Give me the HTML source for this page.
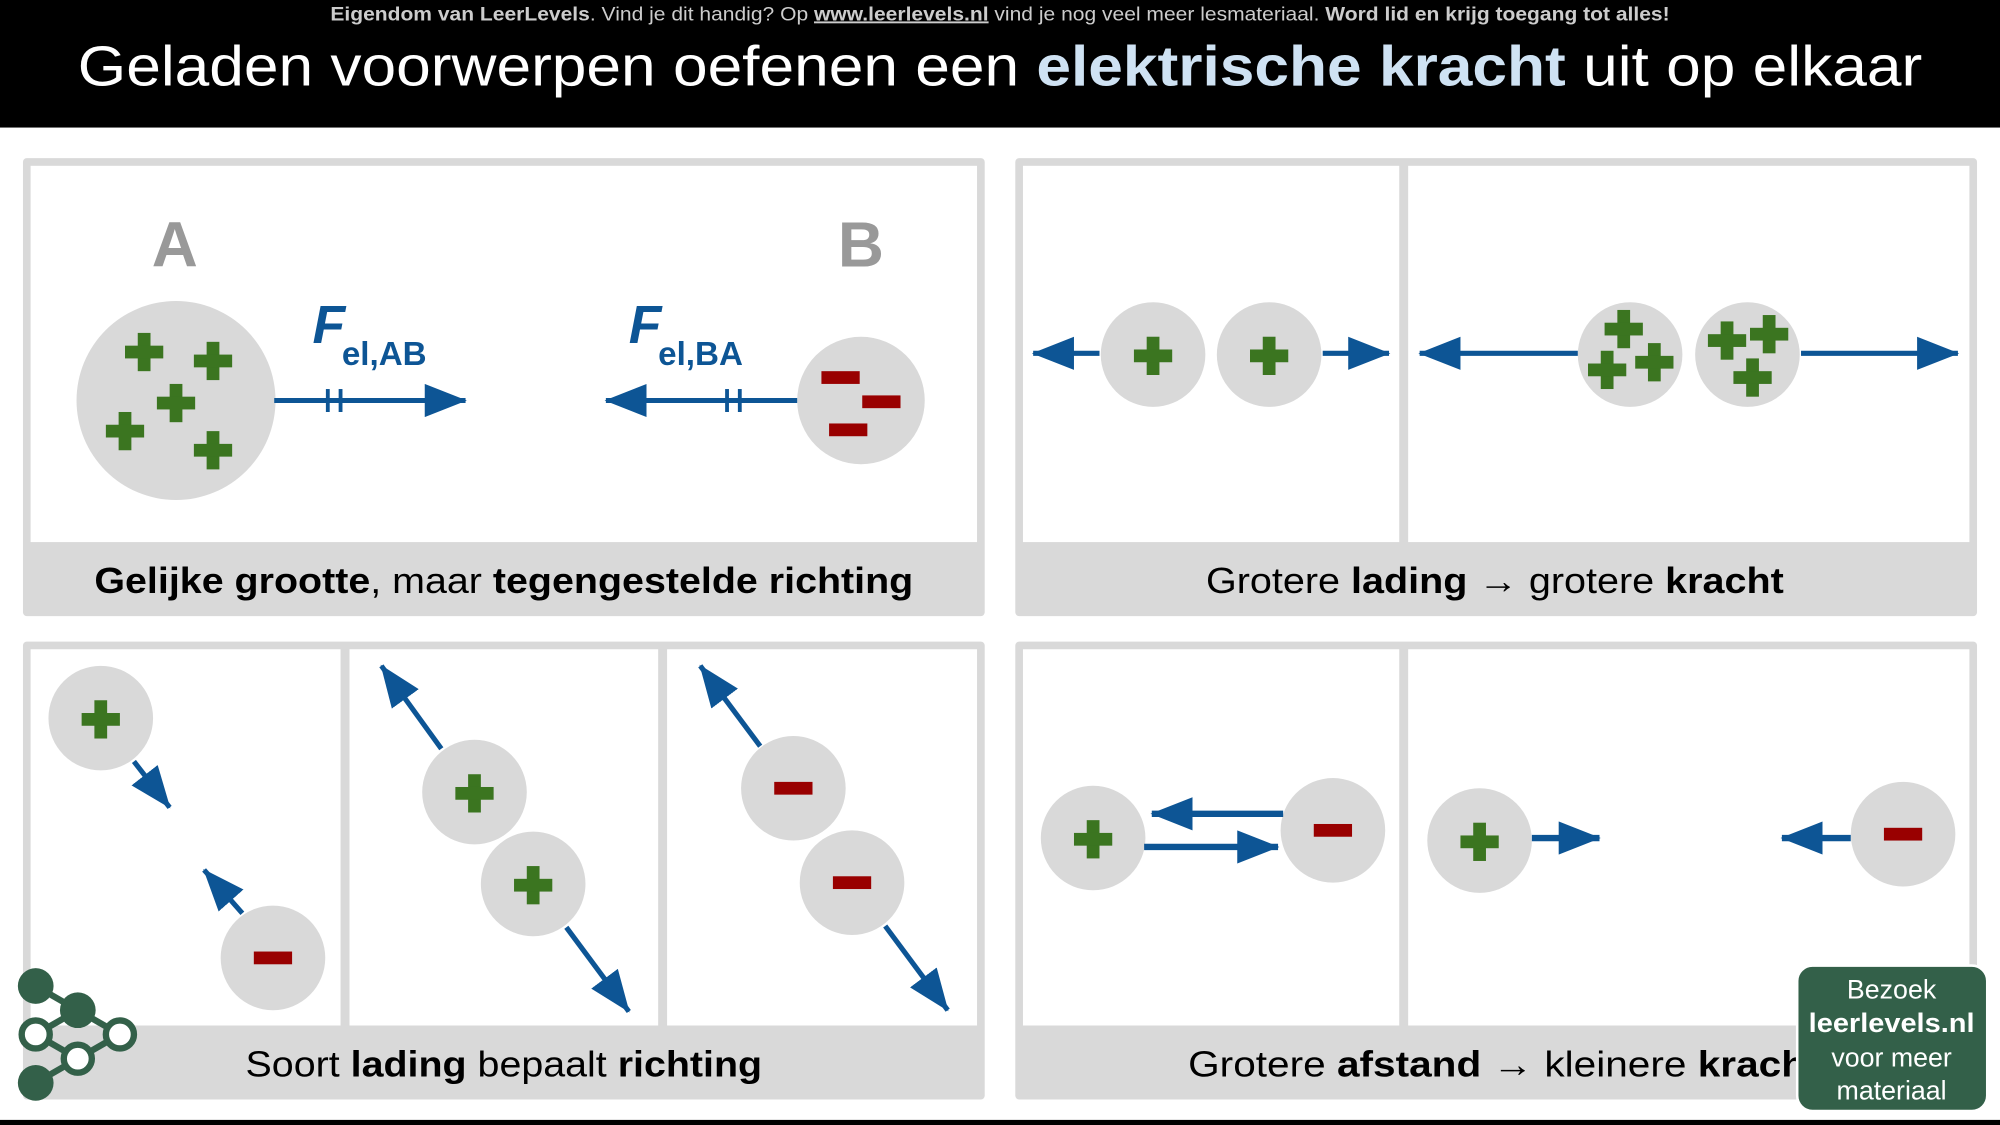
<!DOCTYPE html>
<html><head><meta charset="utf-8"><style>html,body{margin:0;padding:0;background:#fff}svg{display:block}</style></head><body>
<svg width="2000" height="1125" viewBox="0 0 1568 882" xmlns="http://www.w3.org/2000/svg" font-family="'Liberation Sans', sans-serif">
<defs>
<marker id="ah" markerUnits="userSpaceOnUse" markerWidth="34" markerHeight="26" refX="32" refY="13" orient="auto"><path d="M0,0 L33,13 L0,26 z" fill="#0d5595"/></marker>
<g id="p"><rect x="-5" y="-15" width="10" height="30" fill="#3b7520"/><rect x="-15" y="-5" width="30" height="10" fill="#3b7520"/></g>
<rect id="m" x="-15" y="-5" width="30" height="10" fill="#990000"/>
</defs>
<rect x="0" y="0" width="1568" height="100" fill="#000"/>
<text x="784" y="16" font-size="15" fill="#ccc" text-anchor="middle" textLength="1050" lengthAdjust="spacingAndGlyphs"><tspan font-weight="bold">Eigendom van LeerLevels</tspan>. Vind je dit handig? Op <tspan font-weight="bold" text-decoration="underline">www.leerlevels.nl</tspan> vind je nog veel meer lesmateriaal. <tspan font-weight="bold">Word lid en krijg toegang tot alles!</tspan></text>
<text x="61" y="67" font-size="44" fill="#fff" textLength="1446" lengthAdjust="spacingAndGlyphs">Geladen voorwerpen oefenen een <tspan font-weight="bold" fill="#cfe2f3">elektrische kracht</tspan> uit op elkaar</text>
<rect x="0" y="878" width="1568" height="4" fill="#000"/>

<g fill="#d9d9d9">
<rect x="18" y="124" width="754" height="359" rx="3"/>
<rect x="796" y="124" width="754" height="359" rx="3"/>
<rect x="18" y="503" width="754" height="359" rx="3"/>
<rect x="796" y="503" width="754" height="359" rx="3"/>
</g>
<g fill="#fff">
<rect x="24" y="130" width="742" height="295"/>
<rect x="802" y="130" width="295" height="295"/><rect x="1104" y="130" width="440" height="295"/>
<rect x="24" y="509" width="243" height="295"/><rect x="274" y="509" width="242" height="295"/><rect x="523" y="509" width="243" height="295"/>
<rect x="802" y="509" width="295" height="295"/><rect x="1104" y="509" width="440" height="295"/>
</g>
<g font-size="28" fill="#000" text-anchor="middle">
<text x="395" y="465" textLength="642" lengthAdjust="spacingAndGlyphs"><tspan font-weight="bold">Gelijke grootte</tspan>, maar <tspan font-weight="bold">tegengestelde richting</tspan></text>
<text x="1172" y="465" textLength="453" lengthAdjust="spacingAndGlyphs">Grotere <tspan font-weight="bold">lading</tspan> → grotere <tspan font-weight="bold">kracht</tspan></text>
<text x="395" y="844" textLength="405" lengthAdjust="spacingAndGlyphs">Soort <tspan font-weight="bold">lading</tspan> bepaalt <tspan font-weight="bold">richting</tspan></text>
<text x="1179" y="844" textLength="495" lengthAdjust="spacingAndGlyphs">Grotere <tspan font-weight="bold">afstand</tspan> → kleinere <tspan font-weight="bold">kracht</tspan></text>
</g>

<!-- panel 1 -->
<text x="137" y="209" font-size="50" font-weight="bold" fill="#999" text-anchor="middle">A</text>
<text x="675" y="209" font-size="50" font-weight="bold" fill="#999" text-anchor="middle">B</text>
<circle cx="138" cy="314" r="78" fill="#d9d9d9"/>
<use href="#p" x="113" y="276"/><use href="#p" x="167" y="283"/><use href="#p" x="138" y="316"/><use href="#p" x="98" y="338"/><use href="#p" x="167" y="353"/>
<circle cx="675" cy="314" r="50" fill="#d9d9d9"/>
<use href="#m" x="659" y="296"/><use href="#m" x="691" y="315"/><use href="#m" x="665" y="337"/>
<g stroke="#0d5595" stroke-width="4">
<line x1="215" y1="314" x2="365" y2="314" marker-end="url(#ah)"/>
<line x1="257" y1="305" x2="257" y2="323" stroke-width="3"/><line x1="267" y1="305" x2="267" y2="323" stroke-width="3"/>
<line x1="625" y1="314" x2="475" y2="314" marker-end="url(#ah)"/>
<line x1="570" y1="305" x2="570" y2="323" stroke-width="3"/><line x1="580" y1="305" x2="580" y2="323" stroke-width="3"/>
</g>
<g fill="#0d5595" font-weight="bold">
<text x="245" y="269" font-size="42" font-style="italic">F</text><text x="268" y="286" font-size="26">el,AB</text>
<text x="493" y="269" font-size="42" font-style="italic">F</text><text x="516" y="286" font-size="26">el,BA</text>
</g>

<!-- panel 2 -->
<g fill="#d9d9d9"><circle cx="904" cy="278" r="41"/><circle cx="995" cy="278" r="41"/><circle cx="1278" cy="278" r="41"/><circle cx="1370" cy="278" r="41"/></g>
<use href="#p" x="904" y="279"/><use href="#p" x="995" y="279"/>
<use href="#p" x="1273" y="258"/><use href="#p" x="1260" y="290"/><use href="#p" x="1297" y="284"/>
<use href="#p" x="1354" y="267"/><use href="#p" x="1387" y="262"/><use href="#p" x="1374" y="296"/>
<g stroke="#0d5595" stroke-width="4">
<line x1="862" y1="277" x2="810" y2="277" marker-end="url(#ah)"/>
<line x1="1037" y1="277" x2="1089" y2="277" marker-end="url(#ah)"/>
<line x1="1237" y1="277" x2="1113" y2="277" marker-end="url(#ah)"/>
<line x1="1412" y1="277" x2="1535" y2="277" marker-end="url(#ah)"/>
</g>

<!-- panel 3 -->
<g fill="#d9d9d9"><circle cx="79" cy="563" r="41"/><circle cx="214" cy="751" r="41"/><circle cx="372" cy="621" r="41"/><circle cx="418" cy="693" r="41"/><circle cx="622" cy="618" r="41"/><circle cx="668" cy="692" r="41"/></g>
<use href="#p" x="79" y="564"/><use href="#m" x="214" y="751"/><use href="#p" x="372" y="622"/><use href="#p" x="418" y="694"/><use href="#m" x="622" y="618"/><use href="#m" x="668" y="692"/>
<g stroke="#0d5595" stroke-width="4">
<line x1="105" y1="597" x2="133" y2="633" marker-end="url(#ah)"/>
<line x1="190" y1="716" x2="160" y2="682" marker-end="url(#ah)"/>
<line x1="346" y1="587" x2="299" y2="522" marker-end="url(#ah)"/>
<line x1="444" y1="727" x2="493" y2="793" marker-end="url(#ah)"/>
<line x1="596" y1="585" x2="549" y2="522" marker-end="url(#ah)"/>
<line x1="694" y1="726" x2="743" y2="792" marker-end="url(#ah)"/>
</g>

<!-- panel 4 -->
<g fill="#d9d9d9"><circle cx="857" cy="657" r="41"/><circle cx="1045" cy="651" r="41"/><circle cx="1160" cy="659" r="41"/><circle cx="1492" cy="654" r="41"/></g>
<use href="#p" x="857" y="658"/><use href="#m" x="1045" y="651"/><use href="#p" x="1160" y="660"/><use href="#m" x="1492" y="654"/>
<g stroke="#0d5595" stroke-width="5">
<line x1="1006" y1="638" x2="903" y2="638" marker-end="url(#ah)"/>
<line x1="897" y1="664" x2="1002" y2="664" marker-end="url(#ah)"/>
<line x1="1201" y1="657" x2="1254" y2="657" marker-end="url(#ah)"/>
<line x1="1451" y1="657" x2="1397" y2="657" marker-end="url(#ah)"/>
</g>

<!-- logo -->
<g stroke="#336049" stroke-width="5">
<line x1="28" y1="773" x2="61" y2="792"/><line x1="61" y1="792" x2="28" y2="811"/><line x1="61" y1="792" x2="94" y2="811"/>
<line x1="28" y1="811" x2="61" y2="830"/><line x1="94" y1="811" x2="61" y2="830"/><line x1="61" y1="830" x2="28" y2="849"/>
</g>
<g fill="#336049"><circle cx="28" cy="773" r="14"/><circle cx="61" cy="792" r="14"/><circle cx="28" cy="849" r="14"/></g>
<g fill="#fff" stroke="#336049" stroke-width="5"><circle cx="28" cy="811" r="11"/><circle cx="94" cy="811" r="11"/><circle cx="61" cy="830" r="11"/></g>

<!-- green box -->
<rect x="1409" y="757" width="149" height="114" rx="12" fill="#336049" stroke="#fff" stroke-width="2"/>
<g fill="#fff" font-size="21" text-anchor="middle">
<text x="1483" y="783">Bezoek</text>
<text x="1483" y="809" font-weight="bold" textLength="130" lengthAdjust="spacingAndGlyphs">leerlevels.nl</text>
<text x="1483" y="836">voor meer</text>
<text x="1483" y="862">materiaal</text>
</g>
</svg>
</body></html>
